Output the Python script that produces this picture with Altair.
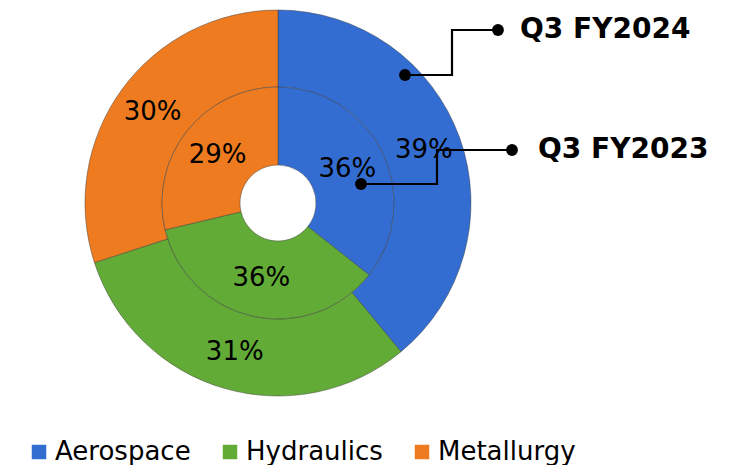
import altair as alt
import pandas as pd

# ---- data ----
segments = ["Aerospace", "Hydraulics", "Metallurgy"]
fy2024 = [39, 31, 30]      # outer ring, Q3 FY2024
fy2023 = [36, 36, 29]      # inner ring, Q3 FY2023
colors = ["#346DD1", "#62AB37", "#EE7B1F"]

callout_names = ["Q3 FY2024", "Q3 FY2023"]
# leader path vertices (chart units, origin at donut centre, y up)
callout_x = [[127, 174, 174, 220], [83, 159, 159, 234]]
callout_y = [[128, 128, 173, 173], [19, 19, 53, 53]]
callout_text_x = [242, 260]

def ring_df(vals):
    return pd.DataFrame({
        "segment": segments,
        "value": vals,
        "label": [f"{v}%" for v in vals],
        "order": list(range(len(segments))),
    })

outer_df = ring_df(fy2024)
inner_df = ring_df(fy2023)

rows = []
for name, xs, ys in zip(callout_names, callout_x, callout_y):
    for i, (xx, yy) in enumerate(zip(xs, ys)):
        rows.append({"series": name, "i": i, "x": xx, "y": yy})
lines_df = pd.DataFrame(rows)
dots_df = lines_df[lines_df["i"].isin([0, 3])]
labels_df = pd.DataFrame({
    "series": callout_names,
    "x": callout_text_x,
    "y": [ys[-1] for ys in callout_y],
})

W, H = 722, 450
xs_scale = alt.Scale(domain=[-270, 452], nice=False, zero=False)
ys_scale = alt.Scale(domain=[-258, 192], nice=False, zero=False)

color_scale = alt.Scale(domain=segments, range=colors)

def ring(df, r_out, r_in, r_lab, legend):
    enc_color = alt.Color(
        "segment:N", scale=color_scale,
        legend=alt.Legend(
            title=None, orient="none", legendX=18, legendY=428,
            direction="horizontal", symbolType="square", symbolSize=210,
            symbolStrokeWidth=0, labelFontSize=26, labelFont="DejaVu Sans",
            labelColor="#000000", labelOffset=3, columnPadding=26, padding=0,
        ) if legend else None,
    )
    arc = alt.Chart(df).mark_arc(
        radius=r_out, radius2=r_in, stroke="#3a3a3a", strokeOpacity=0.45,
        strokeWidth=1,
    ).encode(
        theta=alt.Theta("value:Q", stack=True),
        order=alt.Order("order:Q"),
        color=enc_color,
        x=alt.value(270), y=alt.value(192),
    )
    txt = alt.Chart(df).mark_text(
        radius=r_lab, fontSize=26, font="DejaVu Sans", color="#000000",
        align="center", baseline="middle",
    ).encode(
        theta=alt.Theta("value:Q", stack=True),
        order=alt.Order("order:Q"),
        text="label:N",
        x=alt.value(270), y=alt.value(192),
    )
    return arc, txt

outer_arc, outer_txt = ring(outer_df, 193, 116, 155, True)
inner_arc, inner_txt = ring(inner_df, 116, 38, 77, False)

lines = alt.Chart(lines_df).mark_line(color="#000000", strokeWidth=2.2).encode(
    x=alt.X("x:Q", scale=xs_scale, axis=None),
    y=alt.Y("y:Q", scale=ys_scale, axis=None),
    detail="series:N",
    order="i:Q",
)
dots = alt.Chart(dots_df).mark_circle(color="#000000", size=140, opacity=1).encode(
    x=alt.X("x:Q", scale=xs_scale, axis=None),
    y=alt.Y("y:Q", scale=ys_scale, axis=None),
)
clabels = alt.Chart(labels_df).mark_text(
    align="left", baseline="middle", fontSize=28, fontWeight="bold",
    font="DejaVu Sans", color="#000000",
).encode(
    x=alt.X("x:Q", scale=xs_scale, axis=None),
    y=alt.Y("y:Q", scale=ys_scale, axis=None),
    text="series:N",
)

chart = alt.layer(
    outer_arc, inner_arc, outer_txt, inner_txt, lines, dots, clabels
).resolve_scale(theta="independent").properties(
    width=W, height=H, padding=0
).configure_view(strokeWidth=0)

chart.save("out.html", embed_options={"renderer": "svg", "actions": False})
